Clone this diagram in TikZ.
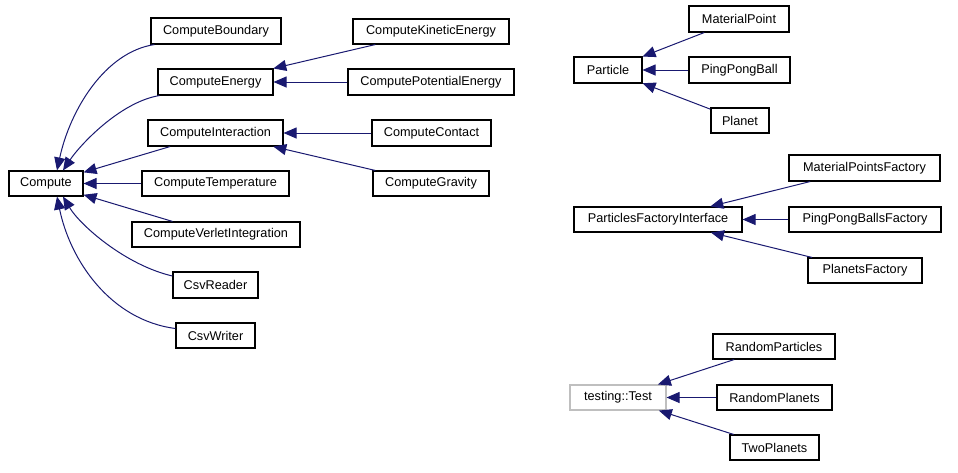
\documentclass[tikz,border=0pt]{standalone}
\usepackage{fontspec}
\setmainfont{Liberation Sans}
\usetikzlibrary{arrows.meta,calc}
\definecolor{edgeblue}{HTML}{191970}
\definecolor{extgrey}{HTML}{BFBFBF}
\tikzset{
  cls/.style={draw=black, line width=1.1pt, fill=white, inner sep=0pt, font=\fontsize{12.7}{15}\selectfont, text=black},
  extcls/.style={cls, draw=extgrey},
  inh/.style={draw=edgeblue, line width=1pt, -{Triangle[length=13pt,width=11pt,fill=edgeblue]}}
}
\begin{document}
\begin{tikzpicture}[x=1pt,y=-1pt]
\useasboundingbox (0,0) rectangle (958,472);
% Compute hierarchy
\node[cls, minimum width=74pt, minimum height=25pt] (cmp) at (46,183.5) {Compute};
\node[cls, minimum width=130pt, minimum height=26pt] (cbd) at (216,31) {ComputeBoundary};
\node[cls, minimum width=115pt, minimum height=26pt] (cen) at (215.5,82) {ComputeEnergy};
\node[cls, minimum width=135pt, minimum height=26pt] (cin) at (215.5,133) {ComputeInteraction};
\node[cls, minimum width=147pt, minimum height=25pt] (ctp) at (215.5,183.5) {ComputeTemperature};
\node[cls, minimum width=168pt, minimum height=25pt] (cvi) at (216,234.5) {ComputeVerletIntegration};
\node[cls, minimum width=85pt, minimum height=26pt] (csr) at (215.5,285) {CsvReader};
\node[cls, minimum width=79pt, minimum height=25pt] (csw) at (215.5,335.5) {CsvWriter};
\node[cls, minimum width=156pt, minimum height=25pt] (cke) at (431,31.5) {ComputeKineticEnergy};
\node[cls, minimum width=166pt, minimum height=26pt] (cpe) at (431,82) {ComputePotentialEnergy};
\node[cls, minimum width=119pt, minimum height=26pt] (cct) at (431.5,133) {ComputeContact};
\node[cls, minimum width=116pt, minimum height=25pt] (cgr) at (431,183.5) {ComputeGravity};
% Particle hierarchy
\node[cls, minimum width=68pt, minimum height=26pt] (par) at (608,70) {Particle};
\node[cls, minimum width=100pt, minimum height=26pt] (mp) at (739,19) {MaterialPoint};
\node[cls, minimum width=101pt, minimum height=26pt] (ppb) at (739.5,70) {PingPongBall};
\node[cls, minimum width=58pt, minimum height=25pt] (pl) at (740,120.5) {Planet};
% Factory hierarchy
\node[cls, minimum width=168pt, minimum height=25pt] (pfi) at (658,219.5) {ParticlesFactoryInterface};
\node[cls, minimum width=151pt, minimum height=26pt] (mpf) at (864.5,168) {MaterialPointsFactory};
\node[cls, minimum width=152pt, minimum height=25pt] (pbf) at (865,219.5) {PingPongBallsFactory};
\node[cls, minimum width=114pt, minimum height=25pt] (plf) at (865,270.5) {PlanetsFactory};
% testing hierarchy
\node[extcls, minimum width=96pt, minimum height=25pt] (tst) at (618,397.5) {testing::Test};
\node[cls, minimum width=122pt, minimum height=25pt] (rpa) at (774,346.5) {RandomParticles};
\node[cls, minimum width=115pt, minimum height=25pt] (rpl) at (774.5,397.5) {RandomPlanets};
\node[cls, minimum width=89pt, minimum height=25pt] (tpl) at (774.5,447.5) {TwoPlanets};
% Compute edges
\draw[inh] ($(cbd.south west)+(4,0)$) .. controls (105,52) and (70,110) .. ($(cmp.north)+(11,0)$);
\draw[inh] ($(cen.south west)+(2,0)$) .. controls (120,102) and (80,145) .. ($(cmp.north)+(17,0)$);
\draw[inh] (cin) -- (cmp);
\draw[inh] (ctp) -- (cmp);
\draw[inh] (cvi) -- (cmp);
\draw[inh] ($(csr.west)+(0,-9)$) .. controls (125,265) and (80,225) .. ($(cmp.south)+(17,0)$);
\draw[inh] ($(csw.west)+(0,-7)$) .. controls (110,320) and (70,260) .. ($(cmp.south)+(11,0)$);
\draw[inh] (cke) -- (cen);
\draw[inh] (cpe) -- (cen);
\draw[inh] (cct) -- (cin);
\draw[inh] (cgr) -- (cin);
% Particle edges
\draw[inh] (mp) -- (par);
\draw[inh] (ppb) -- (par);
\draw[inh] (pl) -- (par);
% Factory edges
\draw[inh] (mpf) -- (pfi);
\draw[inh] (pbf) -- (pfi);
\draw[inh] (plf) -- (pfi);
% testing edges
\draw[inh] (rpa) -- (tst);
\draw[inh] (rpl) -- (tst);
\draw[inh] (tpl) -- (tst);
\end{tikzpicture}
\end{document}
